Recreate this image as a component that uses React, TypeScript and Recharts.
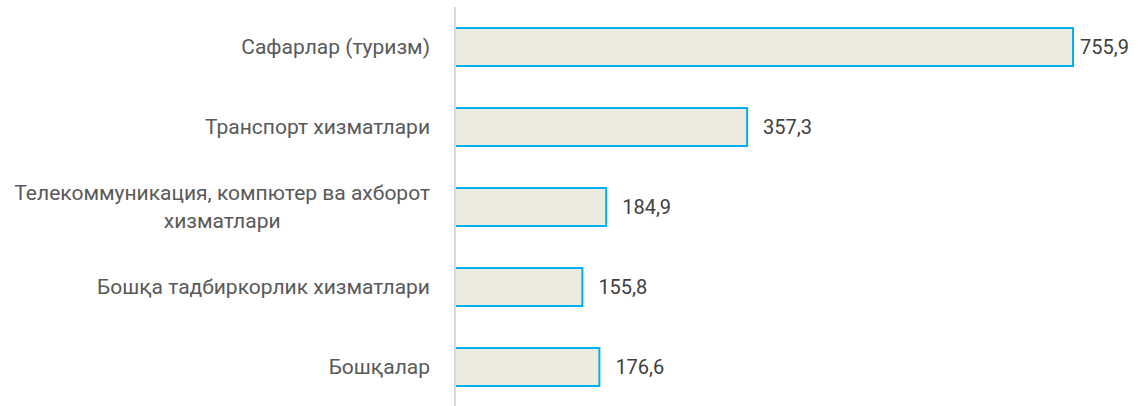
import { BarChart, Bar, XAxis, YAxis, LabelList } from "recharts";

const categories = [
  "Сафарлар (туризм)",
  "Транспорт хизматлари",
  "Телекоммуникация, компютер ва ахборот\nхизматлари",
  "Бошқа тадбиркорлик хизматлари",
  "Бошқалар",
];
const values = [755.9, 357.3, 184.9, 155.8, 176.6];

const data = categories.map((name, i) => ({ name, value: values[i] }));

const FONT = "Roboto, sans-serif";
const TICK_SIZE = 21;
const LABEL_SIZE = 20;

let ctx: CanvasRenderingContext2D | null = null;
const measure = (s: string) => {
  if (!ctx) ctx = document.createElement("canvas").getContext("2d");
  if (!ctx) return s.length * 10;
  ctx.font = `${TICK_SIZE}px Roboto`;
  return ctx.measureText(s).width;
};

// category label, multi-line labels are centred inside a right-aligned block
const CategoryTick = (props: any) => {
  const { x, y, payload } = props;
  const lines: string[] = String(payload.value).split("\n");
  const right = x - 23;
  const lineH = 28;
  if (lines.length === 1) {
    return (
      <text x={right} y={y} dy="0.35em" textAnchor="end" fill="#595959" fontSize={TICK_SIZE} fontFamily={FONT}>
        {lines[0]}
      </text>
    );
  }
  const w = Math.max(...lines.map(measure));
  const cx = right - w / 2;
  const top = y - ((lines.length - 1) * lineH) / 2;
  return (
    <text textAnchor="middle" fill="#595959" fontSize={TICK_SIZE} fontFamily={FONT}>
      {lines.map((l, i) => (
        <tspan key={i} x={cx} y={top + i * lineH} dy="0.35em">
          {l}
        </tspan>
      ))}
    </text>
  );
};

const maxValue = Math.max(...values);

const ValueLabel = (props: any) => {
  const { x, y, width, height, value } = props;
  // the longest bar sits close to the edge, so its label is pulled in
  const off = value === maxValue ? 7 : 16;
  return (
    <text
      x={x + width + off}
      y={y + height / 2}
      dy="0.35em"
      fill="#404040"
      fontSize={LABEL_SIZE}
      fontFamily={FONT}
    >
      {String(value.toFixed(1)).replace(".", ",")}
    </text>
  );
};

export default function App() {
  return (
    <div style={{ position: "absolute", left: 0, top: 0, width: 1143, height: 406, overflow: "hidden", background: "#fff" }}>
      <BarChart
        width={1143}
        height={408}
        data={data}
        layout="vertical"
        margin={{ top: 7, right: 70, bottom: 1, left: 0 }}
        barSize={38}
      >
        <XAxis type="number" domain={[0, "dataMax"]} hide />
        <YAxis
          type="category"
          dataKey="name"
          width={455}
          axisLine={{ stroke: "#d9d9d9", strokeWidth: 2 }}
          tickLine={false}
          tickSize={0}
          tick={<CategoryTick />}
          interval={0}
        />
        <Bar dataKey="value" fill="#edebe0" stroke="#00b0f0" strokeWidth={2} isAnimationActive={false}>
          <LabelList dataKey="value" content={<ValueLabel />} />
        </Bar>
      </BarChart>
    </div>
  );
}
